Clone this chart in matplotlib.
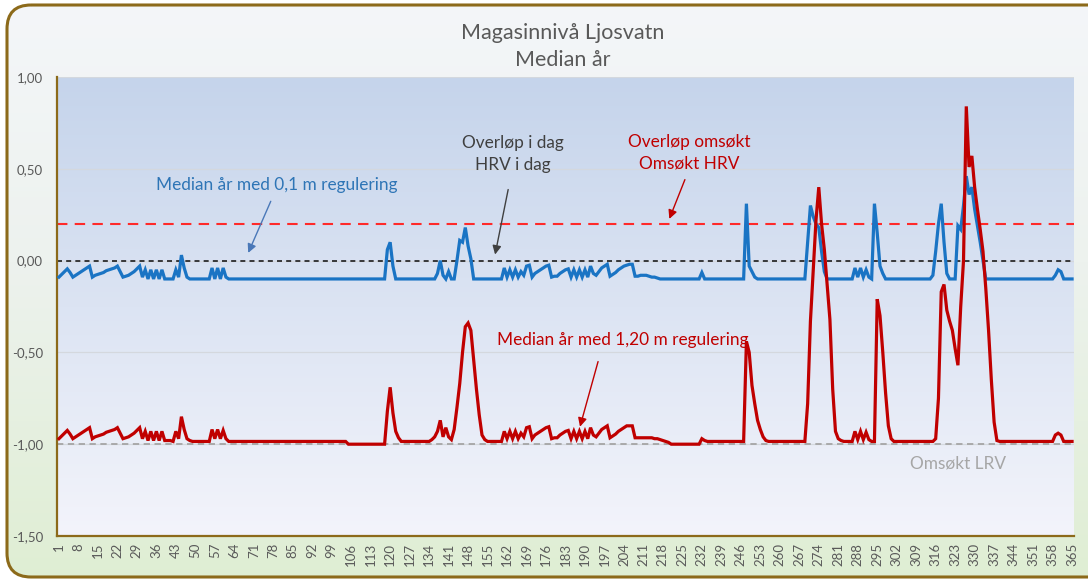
import numpy as np
import matplotlib
matplotlib.use("Agg")
import matplotlib.pyplot as plt
from matplotlib.patches import FancyBboxPatch
from matplotlib.colors import LinearSegmentedColormap

plt.rcParams['font.family'] = ['Lato', 'DejaVu Sans']

# ---------------- data ----------------
days = list(range(1, 366))
tick_days = list(range(1, 366, 7))
y_ticks = [1.0, 0.5, 0.0, -0.5, -1.0, -1.5]
y_labels = ["1,00", "0,50", "0,00", "-0,50", "-1,00", "-1,50"]

hrv_today = 0.0       # Overløp i dag / HRV i dag
hrv_applied = 0.2     # Overløp omsøkt / Omsøkt HRV
lrv_applied = -1.0    # Omsøkt LRV

median_01 = [
    -0.09, -0.075, -0.06, -0.045, -0.065, -0.09, -0.08, -0.07, -0.06, -0.05,      # 1-10
    -0.04, -0.03, -0.09, -0.08, -0.075, -0.07, -0.065, -0.055, -0.05, -0.045,     # 11-20
    -0.04, -0.03, -0.06, -0.09, -0.085, -0.08, -0.07, -0.06, -0.045, -0.03,       # 21-30
    -0.09, -0.05, -0.1, -0.05, -0.1, -0.05, -0.1, -0.05, -0.1, -0.1,              # 31-40
    -0.1, -0.1, -0.05, -0.09, 0.03, -0.04, -0.09, -0.1, -0.1, -0.1,               # 41-50
    -0.1, -0.1, -0.1, -0.1, -0.1, -0.04, -0.1, -0.04, -0.1, -0.04,                # 51-60
    -0.09, -0.1, -0.1, -0.1, -0.1, -0.1, -0.1, -0.1, -0.1, -0.1,                  # 61-70
    -0.1, -0.1, -0.1, -0.1, -0.1, -0.1, -0.1, -0.1, -0.1, -0.1,                   # 71-80
    -0.1, -0.1, -0.1, -0.1, -0.1, -0.1, -0.1, -0.1, -0.1, -0.1,                   # 81-90
    -0.1, -0.1, -0.1, -0.1, -0.1, -0.1, -0.1, -0.1, -0.1, -0.1,                   # 91-100
    -0.1, -0.1, -0.1, -0.1, -0.1, -0.1, -0.1, -0.1, -0.1, -0.1,                   # 101-110
    -0.1, -0.1, -0.1, -0.1, -0.1, -0.1, -0.1, -0.1, 0.06, 0.1,                    # 111-120
    -0.03, -0.1, -0.1, -0.1, -0.1, -0.1, -0.1, -0.1, -0.1, -0.1,                  # 121-130
    -0.1, -0.1, -0.1, -0.1, -0.1, -0.1, -0.07, 0.0, -0.08, -0.1,                  # 131-140
    -0.06, -0.1, -0.1, 0.0, 0.11, 0.1, 0.18, 0.08, 0.01, -0.1,                    # 141-150
    -0.1, -0.1, -0.1, -0.1, -0.1, -0.1, -0.1, -0.1, -0.1, -0.1,                   # 151-160
    -0.04, -0.09, -0.05, -0.09, -0.05, -0.09, -0.06, -0.08, -0.03, -0.025,        # 161-170
    -0.09, -0.07, -0.06, -0.05, -0.04, -0.03, -0.025, -0.09, -0.085, -0.085,      # 171-180
    -0.07, -0.06, -0.05, -0.045, -0.09, -0.05, -0.09, -0.05, -0.09, -0.05,        # 181-190
    -0.09, -0.03, -0.07, -0.08, -0.06, -0.04, -0.03, -0.02, -0.085, -0.075,       # 191-200
    -0.065, -0.05, -0.04, -0.03, -0.025, -0.02, -0.02, -0.085, -0.085, -0.08,     # 201-210
    -0.08, -0.08, -0.085, -0.09, -0.09, -0.095, -0.1, -0.1, -0.1, -0.1,           # 211-220
    -0.1, -0.1, -0.1, -0.1, -0.1, -0.1, -0.1, -0.1, -0.1, -0.1,                   # 221-230
    -0.1, -0.065, -0.1, -0.1, -0.1, -0.1, -0.1, -0.1, -0.1, -0.1,                 # 231-240
    -0.1, -0.1, -0.1, -0.1, -0.1, -0.1, -0.1, 0.31, -0.03, -0.06,                 # 241-250
    -0.09, -0.1, -0.1, -0.1, -0.1, -0.1, -0.1, -0.1, -0.1, -0.1,                  # 251-260
    -0.1, -0.1, -0.1, -0.1, -0.1, -0.1, -0.1, -0.1, -0.1, 0.1,                    # 261-270
    0.3, 0.24, 0.2, 0.18, 0.05, -0.06, -0.1, -0.1, -0.1, -0.1,                    # 271-280
    -0.1, -0.1, -0.1, -0.1, -0.1, -0.1, -0.04, -0.09, -0.04, -0.09,               # 281-290
    -0.05, -0.09, -0.1, 0.31, 0.15, -0.03, -0.07, -0.1, -0.1, -0.1,               # 291-300
    -0.1, -0.1, -0.1, -0.1, -0.1, -0.1, -0.1, -0.1, -0.1, -0.1,                   # 301-310
    -0.1, -0.1, -0.1, -0.1, -0.08, 0.05, 0.2, 0.31, 0.1, -0.07,                   # 311-320
    -0.1, -0.1, -0.1, 0.19, 0.17, 0.3, 0.46, 0.36, 0.4, 0.28,                     # 321-330
    0.19, 0.1, 0.0, -0.1, -0.1, -0.1, -0.1, -0.1, -0.1, -0.1,                     # 331-340
    -0.1, -0.1, -0.1, -0.1, -0.1, -0.1, -0.1, -0.1, -0.1, -0.1,                   # 341-350
    -0.1, -0.1, -0.1, -0.1, -0.1, -0.1, -0.1, -0.1, -0.08, -0.05,                 # 351-360
    -0.06, -0.1, -0.1, -0.1, -0.1,                                                # 361-365
]

median_120 = [
    -0.97, -0.955, -0.94, -0.925, -0.945, -0.97, -0.96, -0.95, -0.94, -0.93,      # 1-10
    -0.92, -0.91, -0.97, -0.96, -0.955, -0.95, -0.945, -0.935, -0.93, -0.925,     # 11-20
    -0.92, -0.91, -0.94, -0.97, -0.965, -0.96, -0.95, -0.94, -0.925, -0.91,       # 21-30
    -0.97, -0.93, -0.98, -0.93, -0.98, -0.93, -0.98, -0.93, -0.98, -0.98,         # 31-40
    -0.98, -0.985, -0.93, -0.97, -0.85, -0.92, -0.97, -0.98, -0.985, -0.985,      # 41-50
    -0.985, -0.985, -0.985, -0.985, -0.985, -0.92, -0.97, -0.92, -0.97, -0.925,   # 51-60
    -0.97, -0.985, -0.985, -0.985, -0.985, -0.985, -0.985, -0.985, -0.985, -0.985,  # 61-70
    -0.985, -0.985, -0.985, -0.985, -0.985, -0.985, -0.985, -0.985, -0.985, -0.985,  # 71-80
    -0.985, -0.985, -0.985, -0.985, -0.985, -0.985, -0.985, -0.985, -0.985, -0.985,  # 81-90
    -0.985, -0.985, -0.985, -0.985, -0.985, -0.985, -0.985, -0.985, -0.985, -0.985,  # 91-100
    -0.985, -0.985, -0.985, -0.985, -1.0, -1.0, -1.0, -1.0, -1.0, -1.0,          # 101-110
    -1.0, -1.0, -1.0, -1.0, -1.0, -1.0, -1.0, -1.0, -0.82, -0.69,                 # 111-120
    -0.83, -0.93, -0.965, -0.985, -0.985, -0.985, -0.985, -0.985, -0.985, -0.985,  # 121-130
    -0.985, -0.985, -0.985, -0.985, -0.975, -0.96, -0.93, -0.87, -0.96, -0.91,    # 131-140
    -0.96, -0.975, -0.92, -0.8, -0.67, -0.5, -0.36, -0.34, -0.38, -0.54,          # 141-150
    -0.7, -0.84, -0.95, -0.975, -0.985, -0.985, -0.985, -0.985, -0.985, -0.985,   # 151-160
    -0.93, -0.97, -0.93, -0.97, -0.93, -0.97, -0.94, -0.96, -0.91, -0.905,        # 161-170
    -0.97, -0.95, -0.94, -0.93, -0.92, -0.91, -0.905, -0.97, -0.965, -0.965,      # 171-180
    -0.95, -0.94, -0.93, -0.925, -0.97, -0.93, -0.97, -0.93, -0.97, -0.93,        # 181-190
    -0.97, -0.91, -0.95, -0.96, -0.94, -0.92, -0.91, -0.9, -0.965, -0.955,        # 191-200
    -0.945, -0.93, -0.92, -0.91, -0.9, -0.9, -0.9, -0.965, -0.965, -0.965,        # 201-210
    -0.965, -0.965, -0.965, -0.965, -0.97, -0.97, -0.975, -0.98, -0.985, -0.99,   # 211-220
    -1.0, -1.0, -1.0, -1.0, -1.0, -1.0, -1.0, -1.0, -1.0, -1.0,                   # 221-230
    -1.0, -0.97, -0.98, -0.985, -0.985, -0.985, -0.985, -0.985, -0.985, -0.985,   # 231-240
    -0.985, -0.985, -0.985, -0.985, -0.985, -0.985, -0.985, -0.44, -0.5, -0.68,   # 241-250
    -0.78, -0.87, -0.92, -0.96, -0.98, -0.985, -0.985, -0.985, -0.985, -0.985,    # 251-260
    -0.985, -0.985, -0.985, -0.985, -0.985, -0.985, -0.985, -0.985, -0.985, -0.78,  # 261-270
    -0.33, -0.05, 0.22, 0.4, 0.2, 0.06, -0.13, -0.32, -0.7, -0.93,                # 271-280
    -0.97, -0.98, -0.985, -0.985, -0.985, -0.985, -0.93, -0.975, -0.93, -0.975,   # 281-290
    -0.935, -0.975, -0.985, -0.985, -0.21, -0.3, -0.5, -0.72, -0.9, -0.97,        # 291-300
    -0.985, -0.985, -0.985, -0.985, -0.985, -0.985, -0.985, -0.985, -0.985, -0.985,  # 301-310
    -0.985, -0.985, -0.985, -0.985, -0.985, -0.97, -0.75, -0.17, -0.13, -0.27,    # 311-320
    -0.33, -0.38, -0.48, -0.57, -0.25, 0.0, 0.84, 0.51, 0.57, 0.4,                # 321-330
    0.28, 0.17, 0.05, -0.15, -0.38, -0.65, -0.88, -0.98, -0.985, -0.985,          # 331-340
    -0.985, -0.985, -0.985, -0.985, -0.985, -0.985, -0.985, -0.985, -0.985, -0.985,  # 341-350
    -0.985, -0.985, -0.985, -0.985, -0.985, -0.985, -0.985, -0.985, -0.95, -0.94,  # 351-360
    -0.95, -0.985, -0.985, -0.985, -0.985,                                        # 361-365
]

# ---------------- figure ----------------
W, H = 1088, 582
fig = plt.figure(figsize=(W / 100, H / 100), dpi=100)
fig.patch.set_facecolor("white")

# outer background with rounded golden border and vertical gradient
bg = fig.add_axes([0, 0, 1, 1], zorder=-10)
bg.set_xlim(0, W)
bg.set_ylim(H, 0)
bg.axis("off")
outer_cmap = LinearSegmentedColormap.from_list(
    "outer", [(0.0, "#f4f6f9"), (0.45, "#edf2ee"), (1.0, "#dfeed3")])
grad = np.linspace(0, 1, 256).reshape(-1, 1)
im = bg.imshow(grad, cmap=outer_cmap, extent=[0, W + 40, H, 0], aspect="auto",
               interpolation="bicubic")
frame = FancyBboxPatch((7, 5), W + 60, H - 10,
                       boxstyle="round,pad=0,rounding_size=24",
                       facecolor="none", edgecolor="#8c6a1a", linewidth=2.2)
bg.add_patch(frame)
im.set_clip_path(frame)

# main plot area
ax_left, ax_right = 57, 1074
ax_top, ax_bottom = 77, 536
ax = fig.add_axes([ax_left / W, 1 - ax_bottom / H,
                   (ax_right - ax_left) / W, (ax_bottom - ax_top) / H])
ax.set_facecolor("none")
plot_cmap = LinearSegmentedColormap.from_list(
    "plot", [(0.0, "#f3f4fb"), (0.5, "#dce4f3"), (1.0, "#c5d4eb")])
ax.imshow(grad, cmap=plot_cmap, extent=[0, 1, 0, 1], transform=ax.transAxes,
          aspect="auto", origin="lower", zorder=0, interpolation="bicubic")

ax.set_xlim(0.3, 365.7)
ax.set_ylim(-1.5, 1.0)

# gridlines
for yv in y_ticks:
    ax.axhline(yv, color="#d4d8de", lw=0.9, zorder=1)

# reference lines
ax.axhline(hrv_applied, color="#ff2a2a", lw=1.5, ls=(0, (5, 3.5)), zorder=2)
ax.axhline(hrv_today, color="#1c1c1c", lw=1.2, ls=(0, (3, 2.5)), zorder=2)
ax.axhline(lrv_applied, color="#a5a5a5", lw=1.3, ls=(0, (3.5, 2.5)), zorder=2)

# series
ax.plot(days, median_01, color="#1a74c4", lw=2.3, zorder=4, solid_joinstyle="miter")
ax.plot(days, median_120, color="#c00000", lw=2.3, zorder=5, solid_joinstyle="miter")

# axes styling
for s in ["top", "right"]:
    ax.spines[s].set_visible(False)
for s in ["left", "bottom"]:
    ax.spines[s].set_color("#8c6a1a")
    ax.spines[s].set_linewidth(1.6)
ax.set_yticks(y_ticks)
ax.set_yticklabels(y_labels)
ax.set_xticks(tick_days)
ax.set_xticklabels([str(d) for d in tick_days], rotation=90)
ax.tick_params(axis="y", length=0, pad=10, labelsize=9.5, labelcolor="#595959")
ax.tick_params(axis="x", length=0, pad=5, labelsize=9.5, labelcolor="#595959")

# title
fig.text(563 / W, 1 - 33 / H, "Magasinnivå Ljosvatn", ha="center", va="center",
         fontsize=15.5, color="#595959")
fig.text(563 / W, 1 - 60 / H, "Median år", ha="center", va="center",
         fontsize=15.5, color="#595959")

# annotations
fs = 12.4
arrow_kw = dict(arrowstyle="-|>", lw=1.0, mutation_scale=13, shrinkA=0, shrinkB=0)
ax.text(79.3, 0.414, "Median år med 0,1 m regulering", ha="center", va="center",
        fontsize=fs, color="#2e75b6", zorder=6)
ax.annotate("", xy=(69.0, 0.042), xytext=(77.1, 0.323),
            arrowprops=dict(color="#4a78b8", **arrow_kw), zorder=6)

ax.text(164.1, 0.64, "Overløp i dag", ha="center", va="center",
        fontsize=fs, color="#404040", zorder=6)
ax.text(164.1, 0.52, "HRV i dag", ha="center", va="center",
        fontsize=fs, color="#404040", zorder=6)
ax.annotate("", xy=(157.7, 0.033), xytext=(162.4, 0.387),
            arrowprops=dict(color="#404040", **arrow_kw), zorder=6)

ax.text(227.4, 0.645, "Overløp omsøkt", ha="center", va="center",
        fontsize=fs, color="#c00000", zorder=6)
ax.text(227.4, 0.53, "Omsøkt HRV", ha="center", va="center",
        fontsize=fs, color="#c00000", zorder=6)
ax.annotate("", xy=(220.3, 0.227), xytext=(225.9, 0.441),
            arrowprops=dict(color="#c00000", **arrow_kw), zorder=6)

ax.text(203.7, -0.43, "Median år med 1,20 m regulering", ha="center", va="center",
        fontsize=fs, color="#c00000", zorder=6)
ax.annotate("", xy=(188.2, -0.905), xytext=(194.7, -0.55),
            arrowprops=dict(color="#c00000", **arrow_kw), zorder=6)

ax.text(324, -1.105, "Omsøkt LRV", ha="center", va="center",
        fontsize=fs, color="#a6a6a6", zorder=6)

fig.savefig("out.png", dpi=100)
